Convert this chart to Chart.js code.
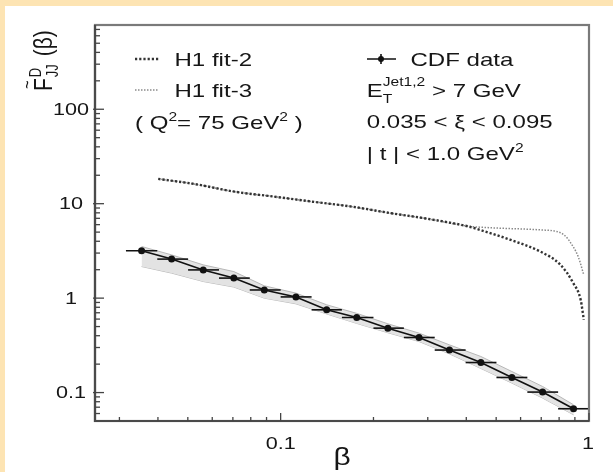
<!DOCTYPE html>
<html><head><meta charset="utf-8">
<script src="https://cdn.jsdelivr.net/npm/chart.js@4.4.1/dist/chart.umd.min.js"></script>
<style>html,body{margin:0;padding:0;background:#fff;}canvas{display:block;filter:blur(0.35px);}</style>
</head><body>
<canvas id="c" width="613" height="472"></canvas>
<script>
// ---- data ----
const cdfBeta  = [0.0354, 0.0443, 0.0561, 0.0705, 0.0885, 0.1121, 0.141, 0.1765, 0.2227, 0.281, 0.3527, 0.446, 0.5623, 0.707, 0.891];
const cdfF     = [3.17, 2.59, 1.99, 1.63, 1.22, 1.03, 0.752, 0.623, 0.481, 0.383, 0.282, 0.208, 0.1445, 0.1012, 0.0674];
const cdfBinLo = [0.0315, 0.0398, 0.0501, 0.0631, 0.0794, 0.1, 0.126, 0.158, 0.2, 0.251, 0.316, 0.398, 0.501, 0.631, 0.794];
const cdfBinHi = [0.0398, 0.0501, 0.0631, 0.0794, 0.1, 0.126, 0.158, 0.2, 0.251, 0.316, 0.398, 0.501, 0.631, 0.794, 1.0];
const bandUpper = [3.52, 2.87, 2.25, 1.91, 1.35, 1.13, 0.85, 0.69, 0.535, 0.426, 0.32, 0.241, 0.167, 0.116, 0.0743];
const bandLower = [2.16, 1.84, 1.50, 1.31, 1.00, 0.87, 0.68, 0.54, 0.43, 0.347, 0.257, 0.18, 0.126, 0.0875, 0.0582];
const fit2Beta = [0.0401, 0.0529, 0.0709, 0.0949, 0.127, 0.1701, 0.2282, 0.3054, 0.408, 0.443, 0.5566, 0.6955, 0.8085, 0.8895, 0.9396, 0.962];
const fit2F    = [18.3, 16.1, 13.4, 11.9, 10.5, 9.31, 7.93, 6.85, 5.72, 5.28, 4.14, 3.11, 2.25, 1.44, 0.96, 0.59];
const fit3Beta = [0.0401, 0.0529, 0.0709, 0.0949, 0.127, 0.1701, 0.2282, 0.3054, 0.408, 0.443, 0.5164, 0.6955, 0.7855, 0.8296, 0.8665, 0.9226, 0.962];
const fit3F    = [18.3, 16.1, 13.4, 11.9, 10.5, 9.31, 7.93, 6.85, 5.75, 5.64, 5.5, 5.28, 5.07, 4.68, 3.97, 2.75, 1.76];
const xRange = [0.025, 1];
const yRange = [0.05, 780];
const xTickValues = [0.1, 1];
const xTickLabels = ['0.1', '1'];
const yTickValues = [0.1, 1, 10, 100];
const yTickLabels = ['0.1', '1', '10', '100'];
const xTitle = 'β';
const legendLabels = ['H1 fit-2', 'H1 fit-3', 'CDF data'];

// ---- helpers ----
const FONT = '"Liberation Sans", Arial, Helvetica, sans-serif';
const SX = 1.3;
const TXT = '#161616';
function pts(xs, ys) { return xs.map((x, i) => ({x: x, y: ys[i]})); }
function rich(ctx, segs, x, y, sx) {
  let cx = x;
  for (const s of segs) {
    ctx.font = (s.size || 18.5) + 'px ' + FONT;
    ctx.save();
    ctx.translate(cx, y + (s.dy || 0));
    ctx.scale(sx, 1);
    ctx.fillText(s.t, 0, 0);
    ctx.restore();
    if (!s.noAdv) cx += ctx.measureText(s.t).width * sx;
  }
  return cx;
}
function minorTicks(lo, hi) {
  const out = [];
  for (let d = Math.floor(Math.log10(lo)); d <= Math.ceil(Math.log10(hi)); d++) {
    for (let m = 2; m <= 9; m++) { const v = m * Math.pow(10, d); if (v > lo && v < hi) out.push(v); }
  }
  return out;
}

const decor = {
  id: 'decor',
  beforeDraw(chart) {
    const ctx = chart.ctx;
    ctx.save();
    ctx.fillStyle = '#fde4b3';
    ctx.fillRect(0, 0, chart.width, chart.height);
    ctx.fillStyle = '#ffffff';
    ctx.fillRect(5, 6, chart.width - 5, chart.height - 6);
    ctx.restore();
  },
  afterDatasetsDraw(chart) {
    const ctx = chart.ctx, xs = chart.scales.x, ys = chart.scales.y, a = chart.chartArea;
    ctx.save();
    ctx.beginPath(); ctx.rect(a.left, a.top, a.right - a.left, a.bottom - a.top); ctx.clip();
    ctx.strokeStyle = '#111'; ctx.lineWidth = 1.6;
    for (let i = 0; i < cdfBeta.length; i++) {
      const y = ys.getPixelForValue(cdfF[i]);
      ctx.beginPath();
      ctx.moveTo(xs.getPixelForValue(cdfBinLo[i]), y);
      ctx.lineTo(xs.getPixelForValue(cdfBinHi[i]), y);
      ctx.stroke();
    }
    ctx.restore();
  },
  afterDraw(chart) {
    const ctx = chart.ctx, xs = chart.scales.x, ys = chart.scales.y, a = chart.chartArea;
    ctx.save();
    // frame
    ctx.lineWidth = 2.2;
    ctx.strokeStyle = '#7a7a7a';
    ctx.strokeRect(a.left, a.top, a.right - a.left, a.bottom - a.top);
    ctx.strokeStyle = '#4a4a4a';
    ctx.beginPath(); ctx.moveTo(a.left, a.top); ctx.lineTo(a.left, a.bottom); ctx.lineTo(a.right, a.bottom); ctx.stroke();
    // ticks (inward)
    ctx.lineWidth = 1.3; ctx.strokeStyle = '#444';
    const xmin = minorTicks(xRange[0], xRange[1]);
    const ymin = minorTicks(yRange[0], yRange[1]);
    xTickValues.forEach(v => { const p = xs.getPixelForValue(v); ctx.beginPath(); ctx.moveTo(p, a.bottom); ctx.lineTo(p, a.bottom - 8); ctx.stroke(); });
    xmin.forEach(v => { const p = xs.getPixelForValue(v); ctx.beginPath(); ctx.moveTo(p, a.bottom); ctx.lineTo(p, a.bottom - 4); ctx.stroke(); });
    yTickValues.forEach(v => { const p = ys.getPixelForValue(v); ctx.beginPath(); ctx.moveTo(a.left - 2, p); ctx.lineTo(a.left + 9, p); ctx.stroke(); });
    ymin.forEach(v => { const p = ys.getPixelForValue(v); ctx.beginPath(); ctx.moveTo(a.left, p); ctx.lineTo(a.left + 5, p); ctx.stroke(); });
    // tick labels
    ctx.fillStyle = TXT;
    ctx.font = '16px ' + FONT;
    xTickValues.forEach((v, i) => {
      const w = ctx.measureText(xTickLabels[i]).width * 1.35;
      const p = Math.min(xs.getPixelForValue(v), a.right - 1);
      ctx.save(); ctx.translate(p - w / 2, 449); ctx.scale(1.35, 1); ctx.fillText(xTickLabels[i], 0, 0); ctx.restore();
    });
    yTickValues.forEach((v, i) => {
      const w = ctx.measureText(yTickLabels[i]).width * 1.35;
      const p = ys.getPixelForValue(v);
      ctx.save(); ctx.translate(71 - w / 2, p + 5.5); ctx.scale(1.35, 1); ctx.fillText(yTickLabels[i], 0, 0); ctx.restore();
    });
    // x title
    ctx.font = '23px ' + FONT;
    const tw = ctx.measureText(xTitle).width * SX;
    ctx.save(); ctx.translate((a.left + a.right) / 2 - tw / 2, 465); ctx.scale(SX, 1); ctx.fillText(xTitle, 0, 0); ctx.restore();
    // y title (rotated)
    ctx.save();
    ctx.translate(52, 91); ctx.scale(1.25, 1); ctx.rotate(-Math.PI / 2);
    ctx.font = '21px ' + FONT;
    ctx.fillText('F', 0, 0);
    const fw = ctx.measureText('F').width;
    ctx.font = '15px ' + FONT;
    const tiw = ctx.measureText('~').width;
    ctx.fillText('~', fw / 2 - tiw / 2, -15);
    ctx.font = '13px ' + FONT;
    ctx.fillText('D', fw + 1, -9);
    ctx.fillText('JJ', fw + 1, 5);
    const jw = ctx.measureText('JJ').width;
    ctx.font = '21px ' + FONT;
    ctx.fillText(' (β)', fw + 1 + jw + 2, 0);
    ctx.restore();
    // left legend
    ctx.lineCap = 'butt';
    ctx.strokeStyle = '#333'; ctx.lineWidth = 2.4; ctx.setLineDash([2.2, 2]);
    ctx.beginPath(); ctx.moveTo(135, 59); ctx.lineTo(159, 59); ctx.stroke();
    ctx.strokeStyle = '#8a8a8a'; ctx.lineWidth = 1.5; ctx.setLineDash([1.5, 1.5]);
    ctx.beginPath(); ctx.moveTo(135, 90); ctx.lineTo(159, 90); ctx.stroke();
    ctx.setLineDash([]);
    ctx.fillStyle = TXT;
    rich(ctx, [{t: legendLabels[0]}], 174.5, 66, SX);
    rich(ctx, [{t: legendLabels[1]}], 174.5, 97, SX);
    rich(ctx, [{t: '( Q'}, {t: '2', size: 12, dy: -8}, {t: '= 75 GeV'}, {t: '2', size: 12, dy: -8}, {t: ' )'}], 135, 129, SX);
    // right legend
    ctx.strokeStyle = '#111'; ctx.lineWidth = 1.6;
    ctx.beginPath(); ctx.moveTo(367, 59); ctx.lineTo(396, 59); ctx.moveTo(381, 54); ctx.lineTo(381, 64); ctx.stroke();
    ctx.fillStyle = '#111'; ctx.beginPath(); ctx.arc(381, 59, 3, 0, Math.PI * 2); ctx.fill();
    ctx.fillStyle = TXT;
    rich(ctx, [{t: legendLabels[2]}], 410.5, 66, SX);
    rich(ctx, [{t: 'E'}, {t: 'T', size: 12, dy: 6, noAdv: true}, {t: 'Jet1,2', size: 12, dy: -11}, {t: ' > 7 GeV'}], 366.7, 97, SX);
    rich(ctx, [{t: '0.035 < ξ < 0.095'}], 366.7, 128, SX);
    rich(ctx, [{t: '| t | < 1.0 GeV'}, {t: '2', size: 12, dy: -8}], 366.7, 160, SX);
    ctx.restore();
  }
};

new Chart(document.getElementById('c'), {
  type: 'line',
  data: {
    datasets: [
      { label: 'band-lo', data: pts(cdfBeta, bandLower), borderColor: '#b8b8b8', borderWidth: 1, pointRadius: 0, fill: false, order: 4 },
      { label: 'band-hi', data: pts(cdfBeta, bandUpper), borderColor: '#b8b8b8', borderWidth: 1, pointRadius: 0, fill: '-1', backgroundColor: '#e3e3e3', order: 3 },
      { label: legendLabels[1], data: pts(fit3Beta, fit3F), borderColor: '#8a8a8a', borderWidth: 1.5, borderDash: [1.5, 1.5], pointRadius: 0, fill: false, cubicInterpolationMode: 'monotone', order: 2 },
      { label: legendLabels[0], data: pts(fit2Beta, fit2F), borderColor: '#333', borderWidth: 2.4, borderDash: [2.2, 2], pointRadius: 0, fill: false, cubicInterpolationMode: 'monotone', order: 1 },
      { label: legendLabels[2], data: pts(cdfBeta, cdfF), borderColor: '#111', borderWidth: 1.6, pointRadius: 3.5, pointBackgroundColor: '#111', pointBorderWidth: 0, fill: false, order: 0 }
    ]
  },
  options: {
    responsive: false,
    animation: false,
    devicePixelRatio: 1,
    layout: { padding: { left: 95, right: 24, top: 25, bottom: 51 } },
    plugins: { legend: { display: false }, tooltip: { enabled: false } },
    scales: {
      x: { type: 'logarithmic', min: xRange[0], max: xRange[1], display: false },
      y: { type: 'logarithmic', min: yRange[0], max: yRange[1], display: false }
    }
  },
  plugins: [decor]
});
</script>
</body></html>
